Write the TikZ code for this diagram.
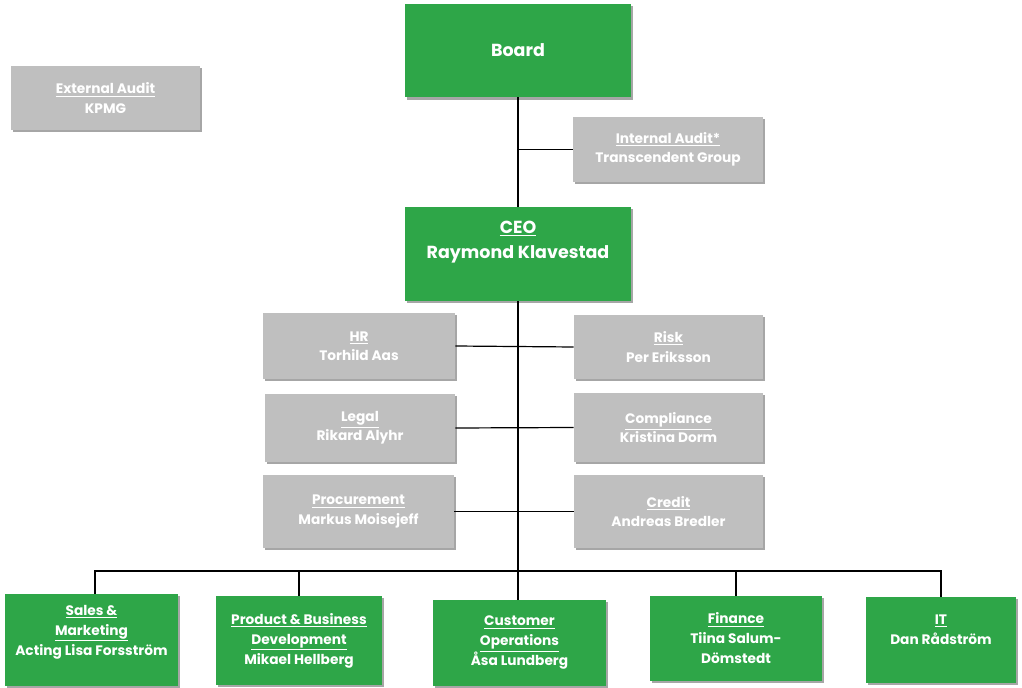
\documentclass[tikz,border=0pt]{standalone}
\usepackage{fontspec}
\setmainfont{Poppins}
\usetikzlibrary{shadows}
\definecolor{boxgreen}{RGB}{46,166,72}
\definecolor{boxgray}{RGB}{191,191,191}
\tikzset{
  base/.style={rectangle, inner sep=0pt, align=center, text=white,
    drop shadow={shadow xshift=1.8pt, shadow yshift=-1.8pt, fill=black, opacity=0.35}},
  greenbox/.style={base, fill=boxgreen, font=\bfseries\fontsize{10.3}{15}\selectfont},
  graybox/.style={base, fill=boxgray, font=\bfseries\fontsize{10.3}{14.5}\selectfont},
  bigbox/.style={base, fill=boxgreen, font=\bfseries\fontsize{13.1}{19}\selectfont},
  link/.style={draw=black, line width=0.9pt}
}
\begin{document}
\begin{tikzpicture}[x=0.75pt,y=-0.75pt]
\useasboundingbox (0,0) rectangle (1022,688);
% top
\node[bigbox, minimum width=169.5pt, minimum height=70pt] (board) at (518,50.5) {Board};
\node[graybox, minimum width=141.75pt, minimum height=48pt] (ext) at (105.5,98) {\underline{External Audit}\\KPMG};
\node[graybox, minimum width=142.5pt, minimum height=48.75pt] (ia) at (668,149.5) {\underline{Internal Audit*}\\Transcendent Group};
\node[bigbox, minimum width=169.5pt, minimum height=70.5pt] (ceo) at (518,254) {\underline{CEO}\\Raymond Klavestad\\[2pt]\mbox{}};
% staff
\node[graybox, minimum width=144pt, minimum height=49.5pt] (hr) at (359,346) {\underline{HR}\\Torhild Aas};
\node[graybox, minimum width=141.75pt, minimum height=48pt] (risk) at (668.5,347) {\underline{Risk}\\Per Eriksson};
\node[graybox, minimum width=142.5pt, minimum height=51pt] (legal) at (360,428) {\underline{Legal}\\Rikard Alyhr};
\node[graybox, minimum width=141.75pt, minimum height=51.75pt] (comp) at (668.5,427.5) {\underline{Compliance}\\Kristina Dorm};
\node[graybox, minimum width=143.25pt, minimum height=54.75pt] (proc) at (358.5,511.5) {\underline{Procurement}\\Markus Moisejeff};
\node[graybox, minimum width=141.75pt, minimum height=54.75pt] (credit) at (668.5,511.5) {\underline{Credit}\\Andreas Bredler};
% bottom
\node[greenbox, minimum width=129.75pt, minimum height=69pt] (sales) at (91.5,640) {\underline{Sales \&}\\\underline{Marketing}\\Acting Lisa Forsström\\\mbox{}};
\node[greenbox, minimum width=124.5pt, minimum height=66.75pt] (prod) at (299,640.5) {\underline{Product \& Business}\\\underline{Development}\\Mikael Hellberg};
\node[greenbox, minimum width=129.75pt, minimum height=64.5pt] (cust) at (519.5,643) {\underline{Customer}\\\underline{Operations}\\Åsa Lundberg};
\node[greenbox, minimum width=129pt, minimum height=63.75pt] (fin) at (736,638.5) {\underline{Finance}\\Tiina Salum-\\Dömstedt};
\node[greenbox, minimum width=112.5pt, minimum height=64.5pt] (it) at (941,640) {\underline{IT}\\Dan Rådström\\\mbox{}};
% connectors
\coordinate (bus) at (518,571);
\draw[link] (board.south) -- (ceo.north);
\draw[link] (ia.west) -- (ia.west -| board.south);
\draw[link] (ceo.south) -- (bus);
\draw[link] (hr.east) -- (risk.west);
\draw[link] (legal.east) -- (comp.west);
\draw[link] (proc.east) -- (credit.west);
\draw[link] (sales.north -| 95,0) -- (bus -| 95,0) -- (it.north |- bus) -- (it.north);
\draw[link] (prod.north) -- (prod.north |- bus);
\draw[link] (cust.north -| bus) -- (bus);
\draw[link] (fin.north) -- (fin.north |- bus);
\end{tikzpicture}
\end{document}
